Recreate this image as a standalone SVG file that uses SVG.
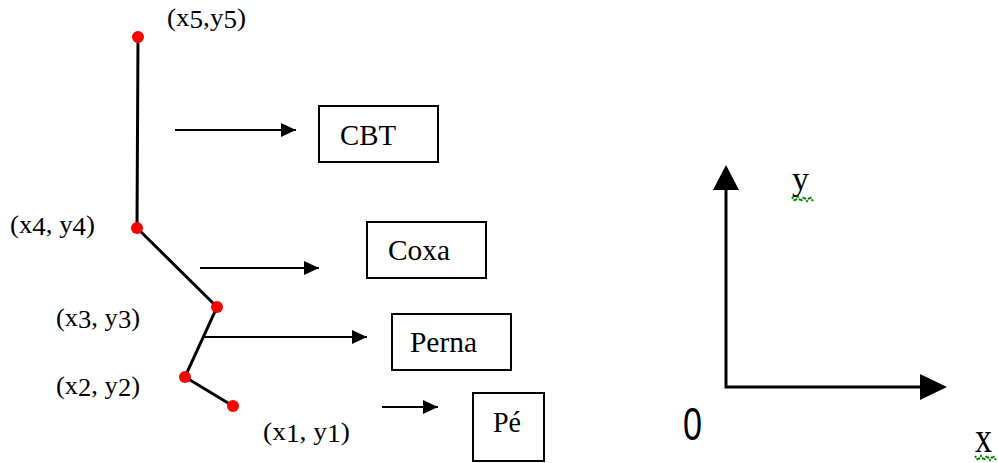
<svg xmlns="http://www.w3.org/2000/svg" width="998" height="463" viewBox="0 0 998 463">
<defs>
<style>
.lbl{font-family:"Liberation Serif","Times New Roman",serif;font-size:25px;fill:#000}
.box{fill:#fff;stroke:#000;stroke-width:2}
.btxt{font-family:"Liberation Serif","Times New Roman",serif;font-size:29px;fill:#000}
.leg{stroke:#000;stroke-width:3;fill:none}
.arr{stroke:#000;stroke-width:2;fill:none}
.dot{fill:#f00}
.axis{stroke:#000;stroke-width:3;fill:none}
.sq{stroke:#008000;stroke-width:2;fill:none;stroke-dasharray:2 1}
</style>
<marker id="ah" markerWidth="16" markerHeight="14" refX="15" refY="7" orient="auto" markerUnits="userSpaceOnUse">
<path d="M0,0 L15,7 L0,14 Z" fill="#000"/>
</marker>
</defs>
<rect width="998" height="463" fill="#fff"/>

<g id="skeleton">
<polyline class="leg" points="138,37 137,228 217,307 185,377 233,406"/>
<circle class="dot" cx="138" cy="37" r="6"/>
<circle class="dot" cx="137" cy="228" r="6"/>
<circle class="dot" cx="217" cy="307" r="6"/>
<circle class="dot" cx="185" cy="377" r="6"/>
<circle class="dot" cx="233" cy="406" r="6"/>
</g>

<g id="labels">
<text class="lbl" x="167" y="26" textLength="79" lengthAdjust="spacingAndGlyphs">(x<tspan dy="2">5</tspan><tspan dy="-2">,y</tspan><tspan dy="2">5</tspan><tspan dy="-2">)</tspan></text>
<text class="lbl" x="10" y="233" textLength="85" lengthAdjust="spacingAndGlyphs">(x<tspan dy="2">4</tspan><tspan dy="-2">, y</tspan><tspan dy="2">4</tspan><tspan dy="-2">)</tspan></text>
<text class="lbl" x="56" y="326" textLength="84" lengthAdjust="spacingAndGlyphs">(x<tspan dy="2">3</tspan><tspan dy="-2">, y</tspan><tspan dy="2">3</tspan><tspan dy="-2">)</tspan></text>
<text class="lbl" x="56" y="394" textLength="84" lengthAdjust="spacingAndGlyphs">(x<tspan dy="2">2</tspan><tspan dy="-2">, y</tspan><tspan dy="2">2</tspan><tspan dy="-2">)</tspan></text>
<text class="lbl" x="263" y="440" textLength="87" lengthAdjust="spacingAndGlyphs">(x<tspan dy="2">1</tspan><tspan dy="-2">, y</tspan><tspan dy="2">1</tspan><tspan dy="-2">)</tspan></text>
</g>

<g id="connectors">
<line class="arr" x1="175" y1="130" x2="296" y2="130" marker-end="url(#ah)"/>
<line class="arr" x1="200" y1="268" x2="319" y2="268" marker-end="url(#ah)"/>
<line class="arr" x1="202" y1="337" x2="367" y2="337" marker-end="url(#ah)"/>
<line class="arr" x1="382" y1="407" x2="438" y2="407" marker-end="url(#ah)"/>
</g>

<g id="cbt">
<rect class="box" x="319" y="106" width="119" height="56"/>
<text class="btxt" x="340" y="145" textLength="56" lengthAdjust="spacingAndGlyphs">CBT</text>
</g>
<g id="coxa">
<rect class="box" x="367" y="222" width="119" height="56"/>
<text class="btxt" x="388" y="260" textLength="62" lengthAdjust="spacingAndGlyphs">Coxa</text>
</g>
<g id="perna">
<rect class="box" x="392" y="314" width="119" height="56"/>
<text class="btxt" x="410" y="352" textLength="67" lengthAdjust="spacingAndGlyphs">Perna</text>
</g>
<g id="pe">
<rect class="box" x="473" y="393" width="71" height="68"/>
<text class="btxt" x="493" y="432" textLength="28" lengthAdjust="spacingAndGlyphs">Pé</text>
</g>

<g id="axes">
<polyline class="axis" points="726,188 726,387 922,387"/>
<path d="M726,165 L739,190 L713,190 Z" fill="#000"/>
<path d="M947,387 L920,374 L920,400 Z" fill="#000"/>
<text x="0" y="0" transform="translate(683,440) scale(0.9,1.2)" style="font-family:'Liberation Sans',Arial,sans-serif;font-size:38px;font-weight:300;fill:#000">0</text>
<text x="792" y="190" style="font-family:'Liberation Serif','Times New Roman',serif;font-size:34px;fill:#000">y</text>
<polyline class="sq" points="792,197 795,201 798,197 801,201 804,197 807,201 810,197 813,201"/>
<text x="0" y="0" transform="translate(975,452) scale(1,1.3)" style="font-family:'Liberation Serif','Times New Roman',serif;font-size:34px;fill:#000">x</text>
<polyline class="sq" points="975,456 978,460 981,456 984,460 987,456 990,460 993,456 996,460"/>
</g>
</svg>
